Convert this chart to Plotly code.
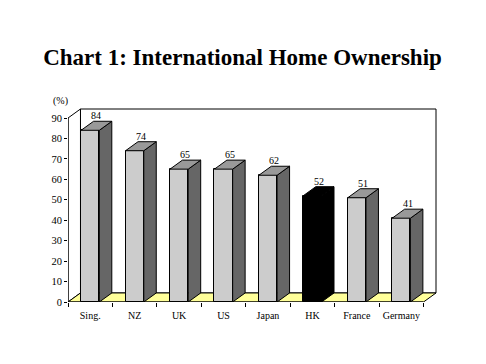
import plotly.graph_objects as go

# ---- data ----
categories = ["Sing.", "NZ", "UK", "US", "Japan", "HK", "France", "Germany"]
ownership = [84, 74, 65, 65, 62, 52, 51, 41]
highlight = ["HK"]
y_ticks = [0, 10, 20, 30, 40, 50, 60, 70, 80, 90]
title_text = "Chart 1: International Home Ownership"
unit_text = "(%)"

# ---- geometry (pixel scale of the 3D box) ----
W, H = 486, 364
SX = 44.5            # px per category
SY = 183.5 / 90      # px per percentage point
X0PX, Y0PX = 67.7, 301.8
DXPX, DYPX = 12.5, 9.0
PAD = 2.0
DX = DXPX / SX
DY = DYPX / SY
YMAX = 90
n = len(categories)
xs = list(range(n))
half = 0.205

x_lo, x_hi = -0.5, n - 0.5 + DX + PAD / SX
y_lo, y_hi = 0, YMAX + DY + PAD / SY
plot_w = (x_hi - x_lo) * SX
plot_h = (y_hi - y_lo) * SY
m_l = X0PX
m_r = W - X0PX - plot_w
m_b = H - Y0PX
m_t = Y0PX - plot_h

FRONT, TOP, SIDE = "#CCCCCC", "#999999", "#666666"
HKC = "#000000"
FLOOR = "#FFFF99"
SERIF = "Liberation Serif, Times New Roman, serif"

fig = go.Figure()

front_cols = [HKC if c in highlight else FRONT for c in categories]
fig.add_trace(go.Bar(
    x=xs, y=ownership, width=2 * half,
    marker=dict(color=front_cols, line=dict(color="black", width=1)),
    hoverinfo="skip", showlegend=False,
))

for i, (c, v) in enumerate(zip(categories, ownership)):
    hk = c in highlight
    # side face
    fig.add_trace(go.Scatter(
        x=[i + half, i + half + DX, i + half + DX, i + half, i + half],
        y=[0, DY, v + DY, v, 0],
        mode="lines", fill="toself", fillcolor=HKC if hk else SIDE,
        line=dict(color="black", width=1), hoverinfo="skip", showlegend=False,
    ))
    # top face
    fig.add_trace(go.Scatter(
        x=[i - half, i - half + DX, i + half + DX, i + half, i - half],
        y=[v, v + DY, v + DY, v, v],
        mode="lines", fill="toself", fillcolor=HKC if hk else TOP,
        line=dict(color="black", width=1), hoverinfo="skip", showlegend=False,
    ))

# axis lines (front edges)
fig.add_trace(go.Scatter(
    x=[-0.5, -0.5, None, -0.5, n - 0.5], y=[YMAX, 0, None, 0, 0],
    mode="lines", line=dict(color="black", width=1), cliponaxis=False,
    hoverinfo="skip", showlegend=False,
))

shapes = [
    dict(type="rect", xref="x", yref="y", layer="below",
         x0=-0.5 + DX, x1=n - 0.5 + DX, y0=DY, y1=YMAX + DY,
         fillcolor="white", line=dict(color="black", width=1)),
    dict(type="path", xref="x", yref="y", layer="below",
         path=f"M {-0.5} 0 L {-0.5} {YMAX} L {-0.5 + DX} {YMAX + DY} L {-0.5 + DX} {DY} Z",
         fillcolor="white", line=dict(color="black", width=1)),
    dict(type="path", xref="x", yref="y", layer="below",
         path=f"M {-0.5} 0 L {n - 0.5} 0 L {n - 0.5 + DX} {DY} L {-0.5 + DX} {DY} Z",
         fillcolor=FLOOR, line=dict(color="black", width=1)),
]

annotations = []
for i, v in enumerate(ownership):
    annotations.append(dict(
        x=i + DX / 2, y=v + DY, xref="x", yref="y", text=str(v),
        showarrow=False, xanchor="center", yanchor="bottom", yshift=-2,
        font=dict(family=SERIF, size=10, color="black"),
    ))
annotations.append(dict(
    x=(60 - X0PX) / plot_w, y=(Y0PX - 101.7) / plot_h, xref="paper", yref="paper",
    text=unit_text, showarrow=False, xanchor="center", yanchor="middle",
    font=dict(family=SERIF, size=10, color="black"),
))

fig.update_layout(
    width=W, height=H,
    margin=dict(l=m_l, r=m_r, t=m_t, b=m_b, pad=0),
    paper_bgcolor="white", plot_bgcolor="rgba(0,0,0,0)",
    bargap=0,
    title=dict(text=f"<b>{title_text}</b>", x=242.5 / W, xanchor="center",
               xref="container", y=1 - 57 / H, yanchor="middle",
               font=dict(family=SERIF, size=23, color="black")),
    shapes=shapes, annotations=annotations,
    xaxis=dict(range=[x_lo, x_hi], tickmode="array", tickvals=xs,
               ticktext=categories, ticks="", ticklen=0, showgrid=False,
               zeroline=False, showline=False, fixedrange=True,
               tickfont=dict(family=SERIF, size=10, color="black"),
               ticklabelstandoff=6,
               minor=dict(tickmode="array",
                          tickvals=[k - 0.5 for k in range(n + 1)],
                          ticks="outside", ticklen=4, tickcolor="black",
                          tickwidth=1, showgrid=False)),
    yaxis=dict(range=[y_lo, y_hi], tickmode="array", tickvals=y_ticks,
               ticks="outside", ticklen=3, tickcolor="black", tickwidth=1,
               showgrid=False, zeroline=False, showline=False, fixedrange=True,
               tickfont=dict(family=SERIF, size=10.5, color="black"),
               ticklabelstandoff=0),
)

fig.write_html("out.html", config={"displayModeBar": False},
               post_script="document.body.style.margin='0';")
